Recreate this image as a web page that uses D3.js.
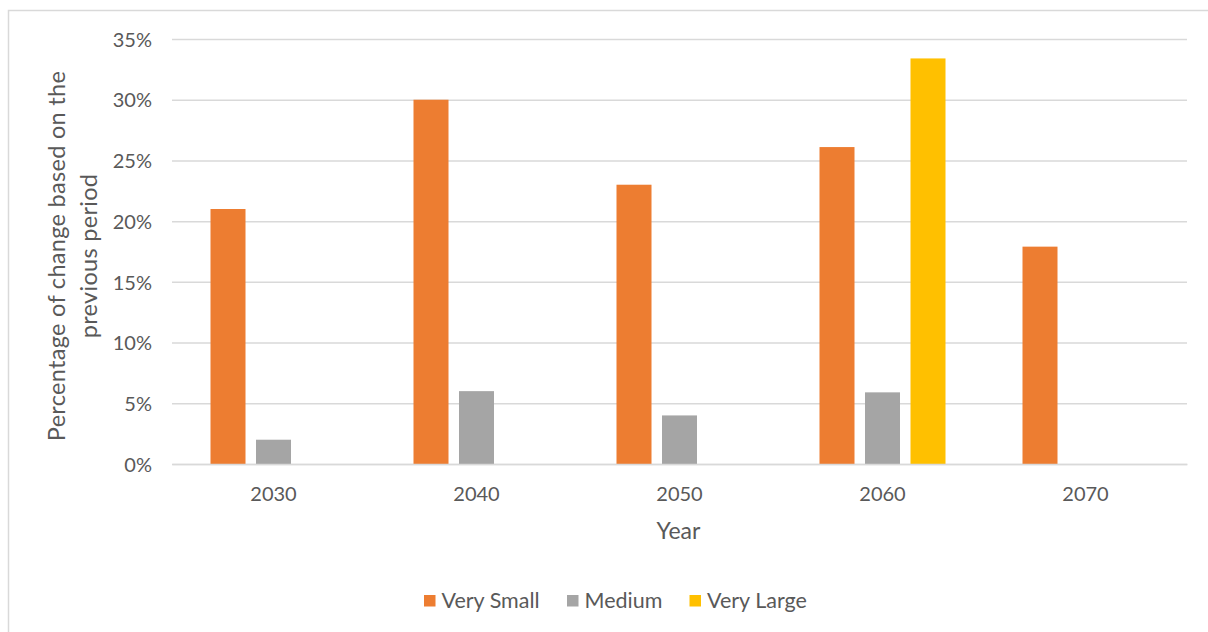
<!DOCTYPE html>
<html>
<head>
<meta charset="utf-8">
<script src="https://cdn.jsdelivr.net/npm/d3@7"></script>
<style>
  html, body { margin: 0; padding: 0; background: #fff; }
  svg { display: block; }
  text { font-family: Lato, "Open Sans", sans-serif; fill: #595959; }
</style>
</head>
<body>
<svg id="chart" width="1208" height="632"></svg>
<script>
const categories = ["2030", "2040", "2050", "2060", "2070"];
const seriesNames = ["Very Small", "Medium", "Very Large"];
const verySmall = [0.21, 0.30, 0.23, 0.261, 0.179];
const medium = [0.02, 0.06, 0.04, 0.059, null];
const veryLarge = [null, null, null, 0.334, null];
const yTicks = [0, 0.05, 0.10, 0.15, 0.20, 0.25, 0.30, 0.35];
const colors = ["#ED7D31", "#A5A5A5", "#FFC000"];

const seriesValues = [verySmall, medium, veryLarge];

const svg = d3.select("#chart");

// outer border
svg.append("rect")
  .attr("x", 8.5).attr("y", 10.5)
  .attr("width", 1300).attr("height", 700)
  .attr("fill", "none").attr("stroke", "#D9D9D9").attr("stroke-width", 1.5);

const plot = { left: 172, right: 1187, top: 39, bottom: 464 };

const x0 = d3.scaleBand().domain(categories).range([plot.left, plot.right]).paddingInner(0).paddingOuter(0);
const y = d3.scaleLinear().domain([0, 0.35]).range([plot.bottom, plot.top]);

const bw = x0.bandwidth() / (3 + 2.2 + 0.6);
const gap = bw * 0.3;
const groupW = 3 * bw + 2 * gap;
const x1 = d3.scaleBand().domain(seriesNames).range([0, groupW]).paddingInner(gap / (bw + gap)).paddingOuter(0);

// gridlines via axis
const yAxis = d3.axisLeft(y).tickValues(yTicks).tickFormat(d3.format(".0%"))
  .tickSize(-(plot.right - plot.left)).tickPadding(20);
const gy = svg.append("g").attr("transform", `translate(${plot.left},0)`).call(yAxis);
gy.select(".domain").remove();
gy.selectAll(".tick line").attr("stroke", "#D9D9D9").attr("stroke-width", 1.5);
gy.selectAll(".tick text").attr("font-size", 20).attr("fill", "#595959")
  .style("font-family", "Lato, sans-serif").attr("dy", "0.36em");

// bars
const data = [];
categories.forEach((c, i) => {
  seriesNames.forEach((s, j) => {
    const v = seriesValues[j][i];
    if (v != null) data.push({ c, s, v, j });
  });
});
svg.append("g").selectAll("rect").data(data).join("rect")
  .attr("x", d => x0(d.c) + (x0.bandwidth() - groupW) / 2 + x1(d.s))
  .attr("y", d => y(d.v))
  .attr("width", x1.bandwidth())
  .attr("height", d => y(0) - y(d.v))
  .attr("fill", d => colors[d.j]);

// x axis
const xAxis = d3.axisBottom(x0).tickSize(0).tickPadding(23);
const gx = svg.append("g").attr("transform", `translate(0,${plot.bottom})`).call(xAxis);
gx.select(".domain").attr("stroke", "#D9D9D9").attr("stroke-width", 1.5);
gx.selectAll(".tick text").attr("font-size", 20).attr("fill", "#595959")
  .style("font-family", "Lato, sans-serif");

// axis titles
svg.append("text").attr("x", (plot.left + plot.right) / 2 - 1).attr("y", 539)
  .attr("text-anchor", "middle").attr("font-size", 23).text("Year");

const yt = svg.append("text").attr("transform", "translate(0,256) rotate(-90)")
  .attr("text-anchor", "middle").attr("font-size", 23.5);
yt.append("tspan").attr("x", 0).attr("y", 65).attr("letter-spacing", 0.3).text("Percentage of change based on the");
yt.append("tspan").attr("x", 0).attr("y", 97).attr("letter-spacing", 0.3).text("previous period");

// legend
const legendX = [424, 567, 689.5];
const lg = svg.append("g");
seriesNames.forEach((s, j) => {
  lg.append("rect").attr("x", legendX[j]).attr("y", 595).attr("width", 11.5).attr("height", 11.5).attr("fill", colors[j]);
  lg.append("text").attr("x", legendX[j] + 17.5).attr("y", 607.5).attr("font-size", 21.5).text(s);
});
</script>
</body>
</html>
